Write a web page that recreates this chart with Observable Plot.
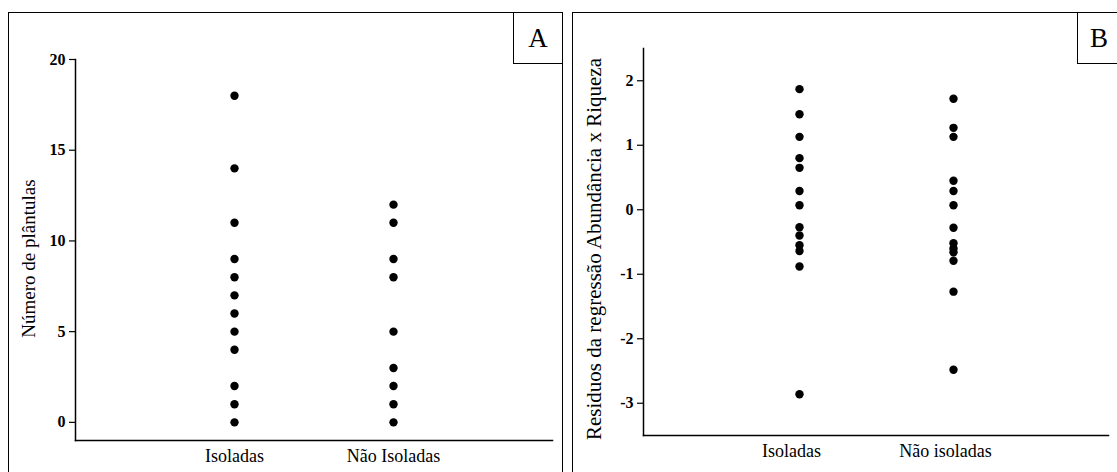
<!DOCTYPE html>
<html>
<head>
<meta charset="utf-8">
<script src="https://cdn.jsdelivr.net/npm/d3@7"></script>
<script src="https://cdn.jsdelivr.net/npm/@observablehq/plot@0.6"></script>
<style>
  html, body { margin: 0; padding: 0; background: #fff; }
  #root { position: relative; width: 1117px; height: 472px; overflow: hidden; background: #fff;
          font-family: "Liberation Serif", "Times New Roman", serif; }
  #root svg, #root svg text, #root svg g { font-family: "Liberation Serif", "Times New Roman", serif !important; }
  .panel { position: absolute; border: 1.5px solid #000; box-sizing: border-box; }
  .tag { position: absolute; border: 1.5px solid #000; box-sizing: border-box; background: #fff;
         display: flex; align-items: center; justify-content: center; font-size: 27px; color: #000; }
  .chart { position: absolute; top: 0; }
</style>
</head>
<body>
<div id="root">
  <div class="panel" style="left:8px; top:12px; width:555px; height:500px;"></div>
  <div class="panel" style="left:572px; top:12px; width:560px; height:500px;"></div>
  <div class="chart" id="a" style="left:0px;"></div>
  <div class="chart" id="b" style="left:573px;"></div>
  <div class="tag" style="left:513px; top:12px; width:50px; height:52px;">A</div>
  <div class="tag" style="left:1077px; top:12px; width:50px; height:52px; justify-content:flex-start; padding-left:12px;">B</div>
</div>
<script>
// ---- Panel A data ----
const categoriesA = ["Isoladas", "Não Isoladas"];
const isoladasA = [18, 14, 11, 9, 8, 7, 6, 5, 4, 2, 1, 0];
const naoIsoladasA = [12, 11, 9, 8, 5, 3, 2, 1, 0];
const yTicksA = [0, 5, 10, 15, 20];
const yLabelA = "Número de plântulas";

// ---- Panel B data ----
const categoriesB = ["Isoladas", "Não isoladas"];
const isoladasB = [1.87, 1.48, 1.13, 0.80, 0.65, 0.29, 0.07, -0.27, -0.40, -0.55, -0.64, -0.88, -2.86];
const naoIsoladasB = [1.72, 1.27, 1.13, 0.45, 0.29, 0.07, -0.28, -0.52, -0.60, -0.66, -0.79, -1.27, -2.48];
const yTicksB = [-3, -2, -1, 0, 1, 2];
const yLabelB = "Residuos da regressão Abundância x Riqueza";

const font = "Liberation Serif";

function rows(cats, a, b) {
  return [...a.map(v => ({cat: cats[0], v})), ...b.map(v => ({cat: cats[1], v}))];
}

const dataA = rows(categoriesA, isoladasA, naoIsoladasA);
const dataB = rows(categoriesB, isoladasB, naoIsoladasB);
const fmt = d => String(d);

const chartA = Plot.plot({
  width: 561, height: 472,
  marginLeft: 75, marginRight: 9, marginTop: 59, marginBottom: 32,
  style: {fontFamily: font, color: "#000", background: "transparent", overflow: "visible"},
  x: {type: "point", domain: categoriesA, range: [234, 393], padding: 0, label: null},
  y: {domain: [-1, 20], label: null},
  marks: [
    Plot.frame({anchor: "left", stroke: "#000", strokeWidth: 1.5}),
    Plot.frame({anchor: "bottom", stroke: "#000", strokeWidth: 1.5}),
    Plot.axisY(yTicksA, {tickSize: 6, tickPadding: 4, fontSize: 16, fontWeight: "bold", fontFamily: font, tickFormat: fmt, label: null, strokeWidth: 1.2}),
    Plot.axisX({tickSize: 0, tickPadding: 9, fontSize: 18, fontFamily: font, label: null}),
    Plot.dot(dataA, {x: "cat", y: "v", r: 4.2, fill: "#000", stroke: "none"}),
    Plot.text([yLabelA], {frameAnchor: "left", textAnchor: "middle", rotate: -90, dx: -47, dy: 8.5, fontSize: 19, fontFamily: font, fill: "#000"})
  ]
});
document.getElementById("a").appendChild(chartA);

const chartB = Plot.plot({
  width: 544, height: 472,
  marginLeft: 70, marginRight: 9, marginTop: 48, marginBottom: 37,
  style: {fontFamily: font, color: "#000", background: "transparent", overflow: "visible"},
  x: {type: "point", domain: categoriesB, range: [226, 380], padding: 0, label: null},
  y: {domain: [-3.5, 2.5], label: null},
  marks: [
    Plot.frame({anchor: "left", stroke: "#000", strokeWidth: 1.5}),
    Plot.frame({anchor: "bottom", stroke: "#000", strokeWidth: 1.5}),
    Plot.axisY(yTicksB, {tickSize: 6, tickPadding: 4, fontSize: 16, fontWeight: "bold", fontFamily: font, tickFormat: fmt, label: null, strokeWidth: 1.2}),
    Plot.axisX({tickSize: 0, tickPadding: 9, dx: -8, fontSize: 18, fontFamily: font, label: null}),
    Plot.dot(dataB, {x: "cat", y: "v", r: 4.2, fill: "#000", stroke: "none"}),
    Plot.text([yLabelB], {frameAnchor: "left", textAnchor: "middle", rotate: -90, dx: -49, dy: 7, fontSize: 21, fontFamily: font, fill: "#000"})
  ]
});
document.getElementById("b").appendChild(chartB);
</script>
</body>
</html>
